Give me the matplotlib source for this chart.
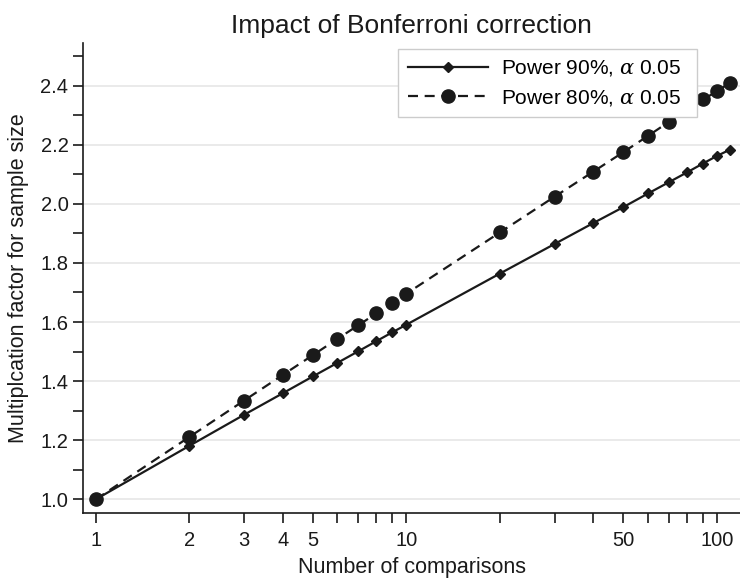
import matplotlib
matplotlib.use("Agg")
import matplotlib.pyplot as plt
from matplotlib.ticker import FixedLocator, FixedFormatter, NullFormatter

plt.rcParams['font.family'] = ['Liberation Sans', 'DejaVu Sans']
plt.rcParams['mathtext.fontset'] = 'dejavuserif'

comparisons = [1, 2, 3, 4, 5, 6, 7, 8, 9, 10, 20, 30, 40, 50, 60, 70, 80, 90, 100, 110]
power90 = [1.000, 1.181, 1.286, 1.359, 1.416, 1.462, 1.501, 1.535, 1.565, 1.591,
           1.764, 1.864, 1.935, 1.989, 2.035, 2.073, 2.106, 2.136, 2.162, 2.183]
power80 = [1.000, 1.211, 1.334, 1.421, 1.488, 1.543, 1.589, 1.629, 1.665, 1.696,
           1.903, 2.024, 2.109, 2.175, 2.230, 2.277, 2.317, 2.353, 2.380, 2.410]

x_major = [1, 2, 3, 4, 5, 10, 50, 100]
x_major_labels = ['1', '2', '3', '4', '5', '10', '50', '100']
x_minor = [6, 7, 8, 9, 20, 30, 40, 60, 70, 80, 90]
y_major = [1.0, 1.2, 1.4, 1.6, 1.8, 2.0, 2.2, 2.4]
y_minor = [1.1, 1.3, 1.5, 1.7, 1.9, 2.1, 2.3, 2.5]

fig = plt.figure(figsize=(7.4, 5.78), dpi=100)
ax = fig.add_axes([83/740, 1 - 512.7/578, (740 - 83)/740, (512.7 - 42.7)/578])

ax.plot(comparisons, power90, color='#1a1a1a', lw=1.6, marker='D', ms=5.5,
        label=r'Power 90%, $\alpha$ 0.05  ', zorder=3)
ax.plot(comparisons, power80, color='#1a1a1a', lw=1.6, ls=(0, (4.5, 3)), marker='o', ms=9.5,
        label=r'Power 80%, $\alpha$ 0.05  ', zorder=3)

ax.set_xscale('log')
ax.set_xlim(0.91, 118.6)
ax.set_ylim(0.955, 2.545)

ax.xaxis.set_major_locator(FixedLocator(x_major))
ax.xaxis.set_major_formatter(FixedFormatter(x_major_labels))
ax.xaxis.set_minor_locator(FixedLocator(x_minor))
ax.xaxis.set_minor_formatter(NullFormatter())
ax.yaxis.set_major_locator(FixedLocator(y_major))
ax.yaxis.set_minor_locator(FixedLocator(y_minor))
ax.set_yticklabels([f'{v:.1f}' for v in y_major])

ax.tick_params(axis='both', which='both', direction='out', length=7, width=1.2,
               color='#1a1a1a', labelsize=14.5, labelcolor='#1a1a1a')
ax.tick_params(axis='x', which='both', pad=6)

ax.grid(axis='y', which='major', color='#e6e6e6', lw=1.2, zorder=0)
ax.set_axisbelow(True)

for s in ['top', 'right']:
    ax.spines[s].set_visible(False)
for s in ['left', 'bottom']:
    ax.spines[s].set_linewidth(1.2)
    ax.spines[s].set_color('#1a1a1a')

ax.set_title('Impact of Bonferroni correction', fontsize=19, color='#1a1a1a', pad=7)
ax.set_xlabel('Number of comparisons', fontsize=15.5, color='#1a1a1a', labelpad=5)
ax.set_ylabel('Multiplcation factor for sample size', fontsize=15.5, color='#1a1a1a', labelpad=8)

leg = ax.legend(loc='upper right', bbox_to_anchor=(0.9345, 0.9866), borderaxespad=0,
                fontsize=15, handlelength=3.85, frameon=True, fancybox=False, framealpha=1,
                edgecolor='#cccccc', borderpad=0.45, labelspacing=0.45, handletextpad=0.62)
leg.get_frame().set_linewidth(1.0)

fig.savefig('out.png', dpi=100)
